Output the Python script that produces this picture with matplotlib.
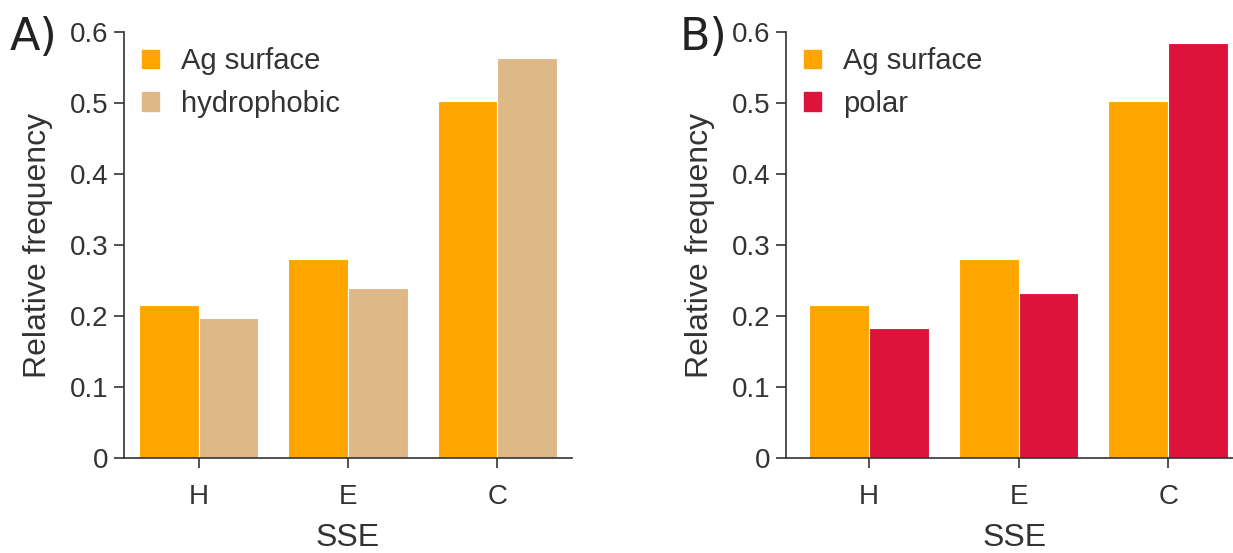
import matplotlib
matplotlib.use('Agg')
import numpy as np
import matplotlib.pyplot as plt
from matplotlib.patches import Patch

plt.rcParams['font.family'] = ['Liberation Sans', 'DejaVu Sans']

categories = ['H', 'E', 'C']
ag_surface = [0.215, 0.280, 0.503]
hydrophobic = [0.197, 0.239, 0.563]
polar = [0.183, 0.232, 0.585]

c_ag = '#FFA500'
c_hyd = '#DEB887'
c_pol = '#DC143C'
dark = '#333333'

W, H = 1233, 553
fig = plt.figure(figsize=(W / 100, H / 100), dpi=100)

def px_axes(x0, x1, y_top, y_bot):
    return fig.add_axes([x0 / W, 1 - y_bot / H, (x1 - x0) / W, (y_bot - y_top) / H])

def draw_panel(ax, other, other_label, other_color, xlim):
    x = np.arange(len(categories))
    bw = 0.4
    ax.bar(x - bw / 2, ag_surface, bw, color=c_ag, edgecolor='white', linewidth=0.8)
    ax.bar(x + bw / 2, other, bw, color=other_color, edgecolor='white', linewidth=0.8)
    ax.set_xlim(*xlim)
    ax.set_ylim(0, 0.6)
    ax.set_xticks(x)
    ax.set_xticklabels(categories)
    ax.set_yticks([0, 0.1, 0.2, 0.3, 0.4, 0.5, 0.6])
    ax.set_yticklabels(['0', '0.1', '0.2', '0.3', '0.4', '0.5', '0.6'])
    for s in ['top', 'right']:
        ax.spines[s].set_visible(False)
    for s in ['left', 'bottom']:
        ax.spines[s].set_color(dark)
        ax.spines[s].set_linewidth(1.2)
    ax.tick_params(axis='y', labelsize=20, colors=dark, length=7, width=1.2, pad=4)
    ax.tick_params(axis='x', labelsize=20, colors=dark, length=7, width=1.2, pad=12)
    ax.set_xlabel('SSE', fontsize=23, color=dark, labelpad=9)
    ax.set_ylabel('Relative frequency', fontsize=23, color=dark, labelpad=12)
    handles = [Patch(color=c_ag, label='Ag surface'), Patch(color=other_color, label=other_label)]
    leg = ax.legend(handles=handles, loc='upper left', bbox_to_anchor=(0.0, 1.005),
                    frameon=False, fontsize=21, handlelength=0.6, handleheight=0.6,
                    handletextpad=0.75, labelspacing=0.5, borderaxespad=0.2)
    for t in leg.get_texts():
        t.set_color(dark)

ax1 = px_axes(124, 572, 32, 458)
draw_panel(ax1, hydrophobic, 'hydrophobic', c_hyd, (-0.5, 2.5))

ax2 = px_axes(786, 1243, 32, 458)
draw_panel(ax2, polar, 'polar', c_pol, (-0.555, 2.5))

# panel letters
fig.text(10 / W, 1 - 37 / H, 'A)', fontsize=32, color='#222222', va='center',
         family='DejaVu Sans')
fig.text(680 / W, 1 - 37 / H, 'B)', fontsize=32, color='#222222', va='center',
         family='DejaVu Sans')

fig.savefig('out.png', dpi=100)
